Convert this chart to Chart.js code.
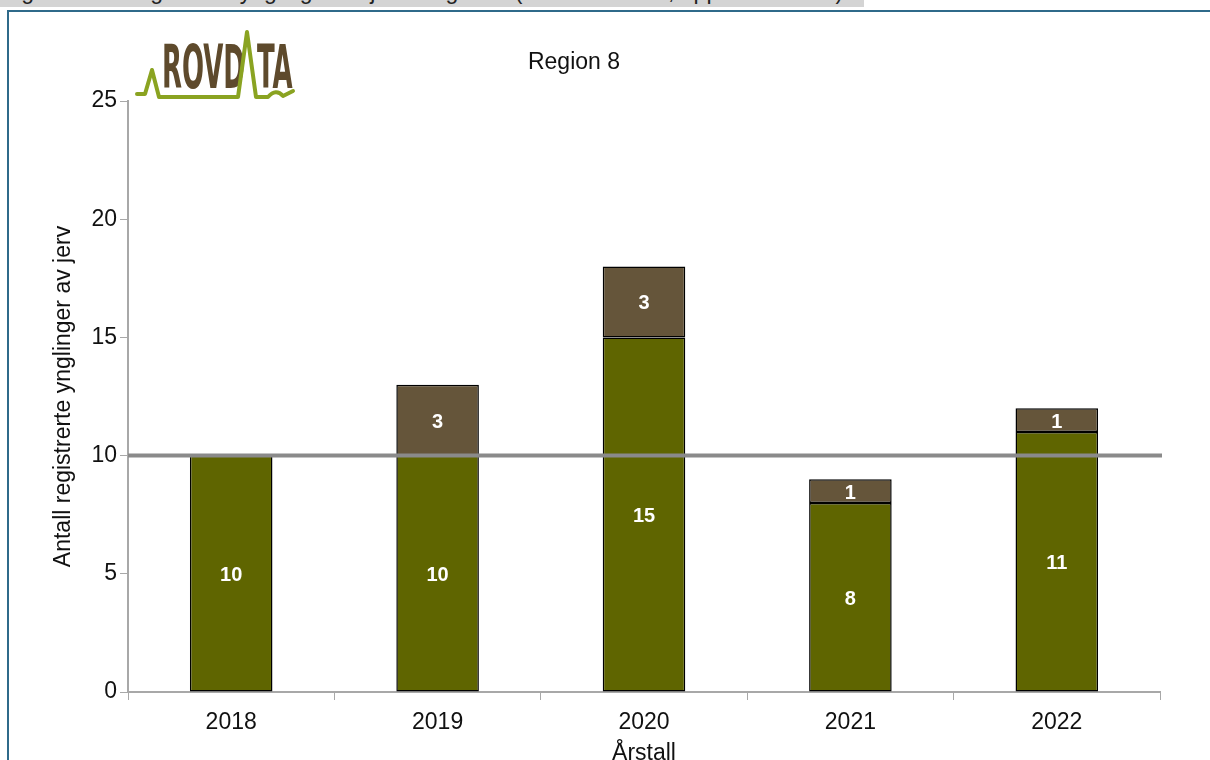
<!DOCTYPE html>
<html>
<head>
<meta charset="utf-8">
<script src="https://cdn.jsdelivr.net/npm/chart.js@4.4.0/dist/chart.umd.min.js"></script>
<style>
  html, body { margin: 0; padding: 0; background: #fff; }
  #wrap { position: relative; width: 1210px; height: 760px; overflow: hidden; }
  #chart { position: absolute; left: 0; top: 0; }
  #strip { position: absolute; left: 0; top: 0; width: 864px; height: 7px; background: #d4d4d4; overflow: hidden; }
  #strip span { position: absolute; left: 2px; top: -22px; font: 23px "Liberation Sans", Arial, sans-serif; color: #222; white-space: nowrap; }
  #frameTop { position: absolute; left: 7px; top: 10px; width: 1203px; height: 2px; background: #2f6a8a; }
  #frameLeft { position: absolute; left: 7px; top: 10px; width: 2px; height: 750px; background: #2f6a8a; }
</style>
</head>
<body>
<div id="wrap">
  <canvas id="chart" width="1210" height="760"></canvas>
  <div id="strip"><span>Figur: Antall registrerte ynglinger av jerv i region 8 (kilde: Rovdata, oppdatert 2022)</span></div>
  <div id="frameTop"></div>
  <div id="frameLeft"></div>
</div>
<script>
// data
var years = ["2018", "2019", "2020", "2021", "2022"];
var green_values = [10, 10, 15, 8, 11];
var brown_values = [0, 3, 3, 1, 1];
var y_ticks = [0, 5, 10, 15, 20, 25];
var goal_value = 10;

var font_family = "'Liberation Sans', Arial, sans-serif";

// value labels inside the bars
var barLabels = {
  id: "barLabels",
  afterDatasetsDraw: function(chart) {
    var ctx = chart.ctx;
    ctx.save();
    ctx.fillStyle = "#ffffff";
    ctx.font = "bold 20px " + font_family;
    ctx.textAlign = "center";
    ctx.textBaseline = "middle";
    chart.data.datasets.forEach(function(dataset, i) {
      var meta = chart.getDatasetMeta(i);
      meta.data.forEach(function(bar, index) {
        var v = dataset.data[index];
        if (!v) return;
        var p = bar.getCenterPoint();
        ctx.fillText(v, p.x, p.y + 2);
      });
    });
    ctx.restore();
  }
};

// grey goal line, title and logo
var extras = {
  id: "extras",
  afterDatasetsDraw: function(chart) {
    var ctx = chart.ctx;
    var area = chart.chartArea;
    var y = chart.scales.y.getPixelForValue(goal_value);
    ctx.save();
    ctx.strokeStyle = "#8a8a8a";
    ctx.lineWidth = 4;
    ctx.beginPath();
    ctx.moveTo(area.left, y);
    ctx.lineTo(area.right + 2, y);
    ctx.stroke();
    ctx.restore();
  },
  afterDraw: function(chart) {
    var ctx = chart.ctx;
    ctx.save();
    ctx.fillStyle = "#111";
    ctx.font = "23px " + font_family;
    ctx.textAlign = "center";
    ctx.textBaseline = "middle";
    ctx.fillText("Region 8", 574, 63);

    // logo
    ctx.fillStyle = "#5e4a2c";
    ctx.textAlign = "left";
    ctx.textBaseline = "alphabetic";
    ctx.save();
    ctx.translate(162, 88);
    ctx.scale(0.48, 1);
    ctx.font = "bold 60px 'Liberation Sans Narrow', 'DejaVu Sans Condensed', sans-serif";
    ctx.fillText("ROVD", 0, 0);
    ctx.fillText("TA", 198, 0);
    ctx.restore();
    ctx.strokeStyle = "#8aa321";
    ctx.lineWidth = 4;
    ctx.lineJoin = "round";
    ctx.lineCap = "round";
    ctx.beginPath();
    ctx.moveTo(137, 94);
    ctx.lineTo(145, 94);
    ctx.lineTo(152, 70);
    ctx.lineTo(159, 97);
    ctx.lineTo(238, 97);
    ctx.lineTo(247, 32);
    ctx.lineTo(256, 97);
    ctx.lineTo(268, 97);
    ctx.quadraticCurveTo(276, 88, 283, 96);
    ctx.lineTo(293, 91);
    ctx.stroke();
    ctx.restore();
  }
};

var ctx = document.getElementById("chart");
var chart = new Chart(ctx, {
  type: "bar",
  data: {
    labels: years,
    datasets: [{
      label: "Ynglinger",
      data: green_values,
      backgroundColor: "#5f6500",
      borderColor: "#000",
      borderWidth: 1.5,
      borderSkipped: false,
      categoryPercentage: 1.0,
      barPercentage: 0.4
    }, {
      label: "Ynglinger (ekstra)",
      data: brown_values,
      backgroundColor: "#65553a",
      borderColor: "#000",
      borderWidth: 1.5,
      borderSkipped: false,
      categoryPercentage: 1.0,
      barPercentage: 0.4
    }]
  },
  options: {
    responsive: false,
    animation: false,
    devicePixelRatio: 1,
    layout: { padding: { top: 101, right: 50, left: 0, bottom: 0 } },
    plugins: {
      legend: { display: false },
      tooltip: { enabled: false }
    },
    scales: {
      x: {
        stacked: true,
        afterFit: function(scale) { scale.height = 68; },
        grid: { display: true, drawOnChartArea: false, offset: true, tickLength: 8, color: "#a8a8a8" },
        border: { color: "#a8a8a8", width: 2 },
        ticks: { color: "#111", padding: 9, font: { family: font_family, size: 23 } },
        title: {
          display: true,
          text: "Årstall",
          color: "#111",
          padding: { top: 0, bottom: -5 },
          font: { family: font_family, size: 23, lineHeight: 1 }
        }
      },
      y: {
        stacked: true,
        min: 0,
        max: 25,
        afterFit: function(scale) { scale.width = 128; },
        afterBuildTicks: function(scale) {
          scale.ticks = y_ticks.map(function(v) { return { value: v }; });
        },
        grid: { display: true, drawOnChartArea: false, tickLength: 8, color: "#a8a8a8" },
        border: { color: "#a8a8a8", width: 2 },
        ticks: { color: "#111", padding: 3, font: { family: font_family, size: 23 } },
        title: {
          display: true,
          text: "Antall registrerte ynglinger av jerv",
          color: "#111",
          padding: { top: 50, bottom: 0 },
          font: { family: font_family, size: 23, lineHeight: 1.2 }
        }
      }
    }
  },
  plugins: [barLabels, extras]
});
</script>
</body>
</html>
